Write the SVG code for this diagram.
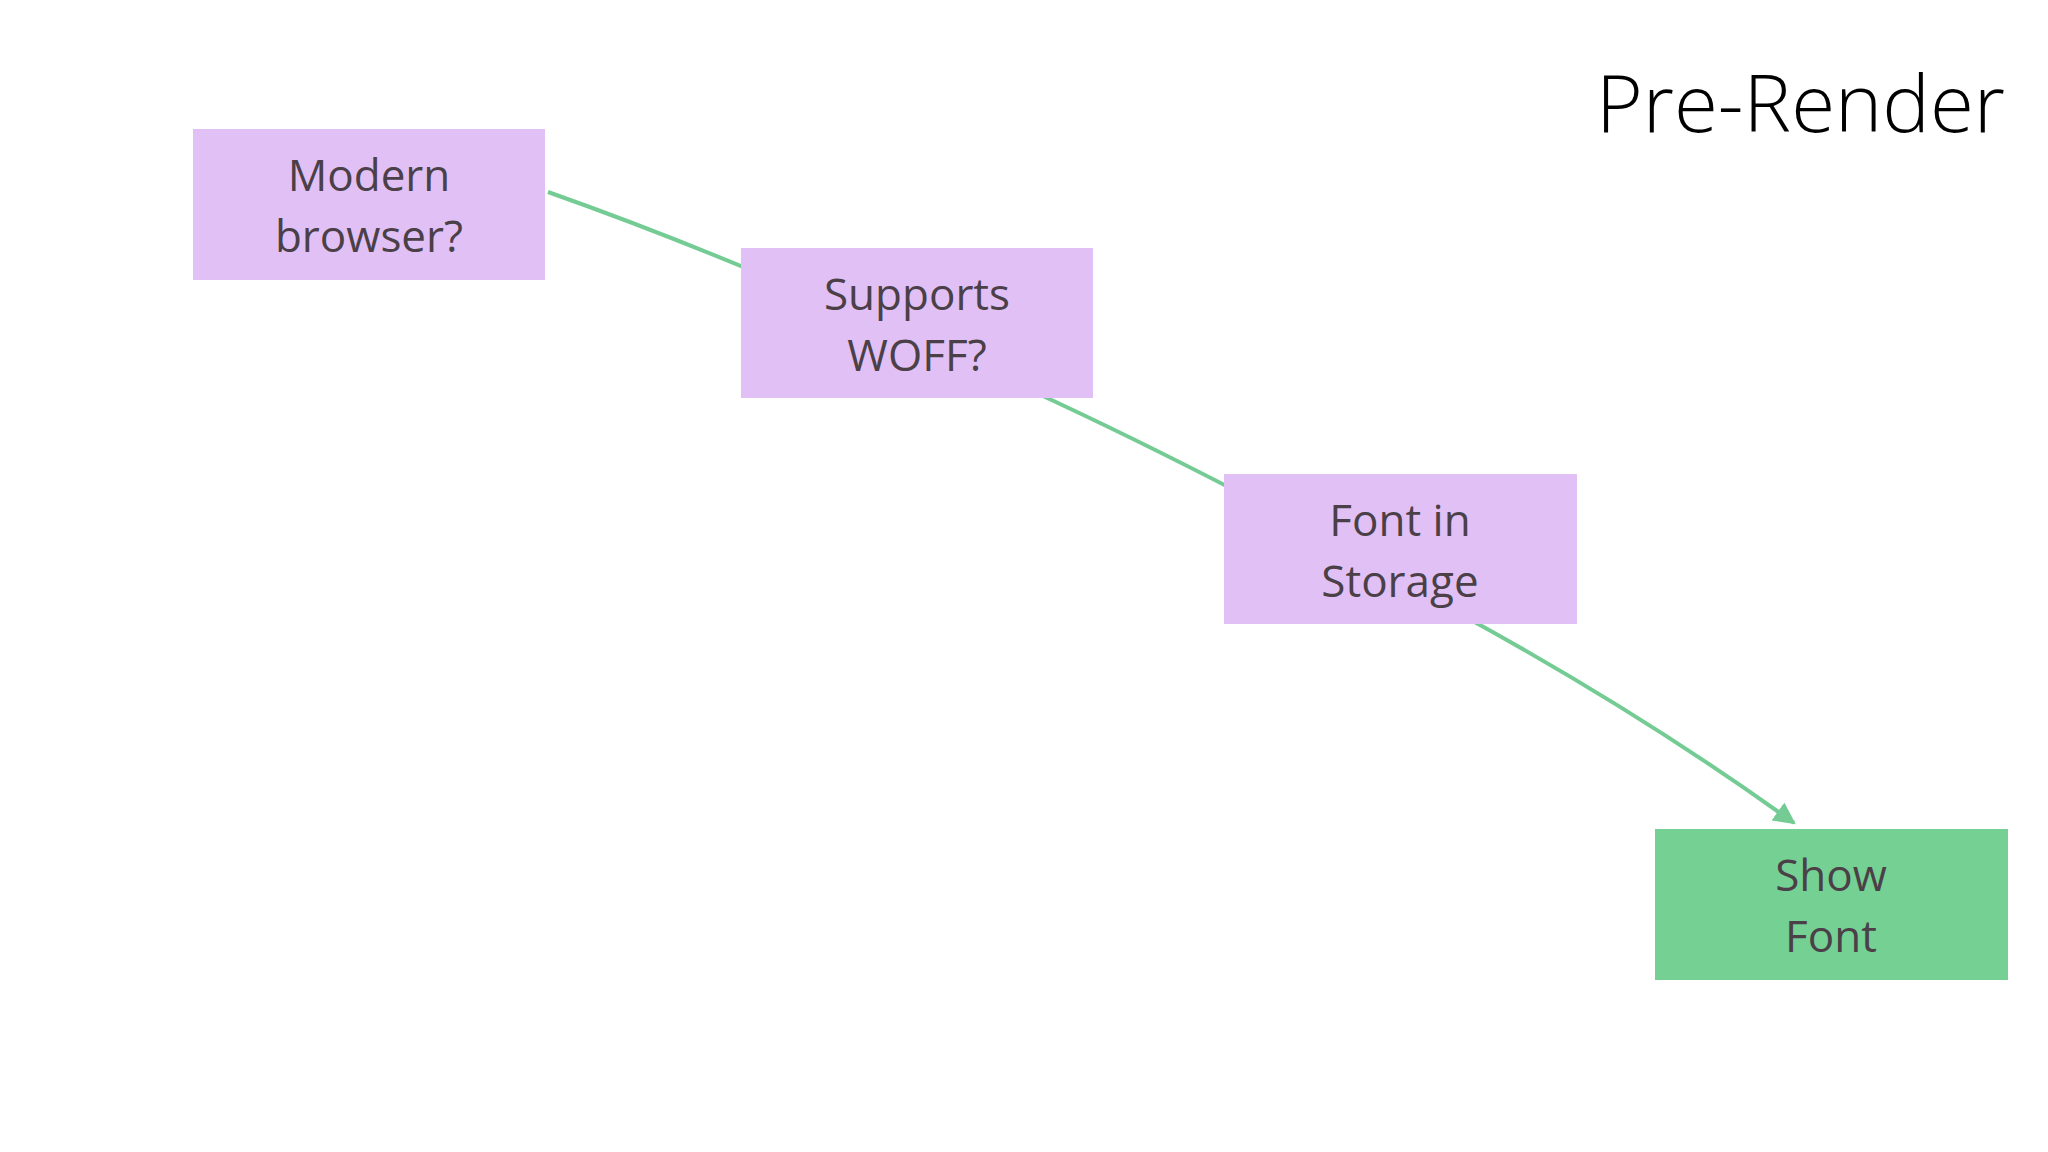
<svg xmlns="http://www.w3.org/2000/svg" width="2048" height="1152" viewBox="0 0 2048 1152">
<defs>
<style>
.box{fill:#e1c1f5}
.ok{fill:#74d093}
.lbl{font-family:"Open Sans","Noto Sans",sans-serif;font-size:44px;fill:#4b3f48;text-anchor:middle}
.edge{fill:none;stroke:#74cc94;stroke-width:4}
.title{font-family:"Open Sans","Noto Sans",sans-serif;font-weight:300;font-size:80px;fill:#000;text-anchor:end}
</style>
<marker id="arr" viewBox="0 0 10 10" refX="9" refY="5" markerWidth="5.5" markerHeight="5.5" orient="auto" markerUnits="strokeWidth">
<path d="M0,0 L10,5 L0,10 z" fill="#74cc94"/>
</marker>
</defs>
<rect width="2048" height="1152" fill="#ffffff"/>
<text class="title" x="2005" y="132">Pre-Render</text>
<g id="connectors">
<path class="edge" d="M548,192 Q650,228 760,274"/>
<path class="edge" d="M1030,390 Q1130,436 1240,493"/>
<path class="edge" d="M1460,614 Q1640,712 1794,823" marker-end="url(#arr)"/>
</g>
<g id="node-modern">
<rect class="box" x="193" y="129" width="352" height="151"/>
<text class="lbl" x="369" y="191">Modern</text>
<text class="lbl" x="369" y="252">browser?</text>
</g>
<g id="node-woff">
<rect class="box" x="741" y="248" width="352" height="150"/>
<text class="lbl" x="917" y="310">Supports</text>
<text class="lbl" x="917" y="371">WOFF?</text>
</g>
<g id="node-storage">
<rect class="box" x="1224" y="474" width="353" height="150"/>
<text class="lbl" x="1400" y="536">Font in</text>
<text class="lbl" x="1400" y="597">Storage</text>
</g>
<g id="node-show">
<rect class="ok" x="1655" y="829" width="353" height="151"/>
<text class="lbl" x="1831" y="891">Show</text>
<text class="lbl" x="1831" y="952">Font</text>
</g>
</svg>
